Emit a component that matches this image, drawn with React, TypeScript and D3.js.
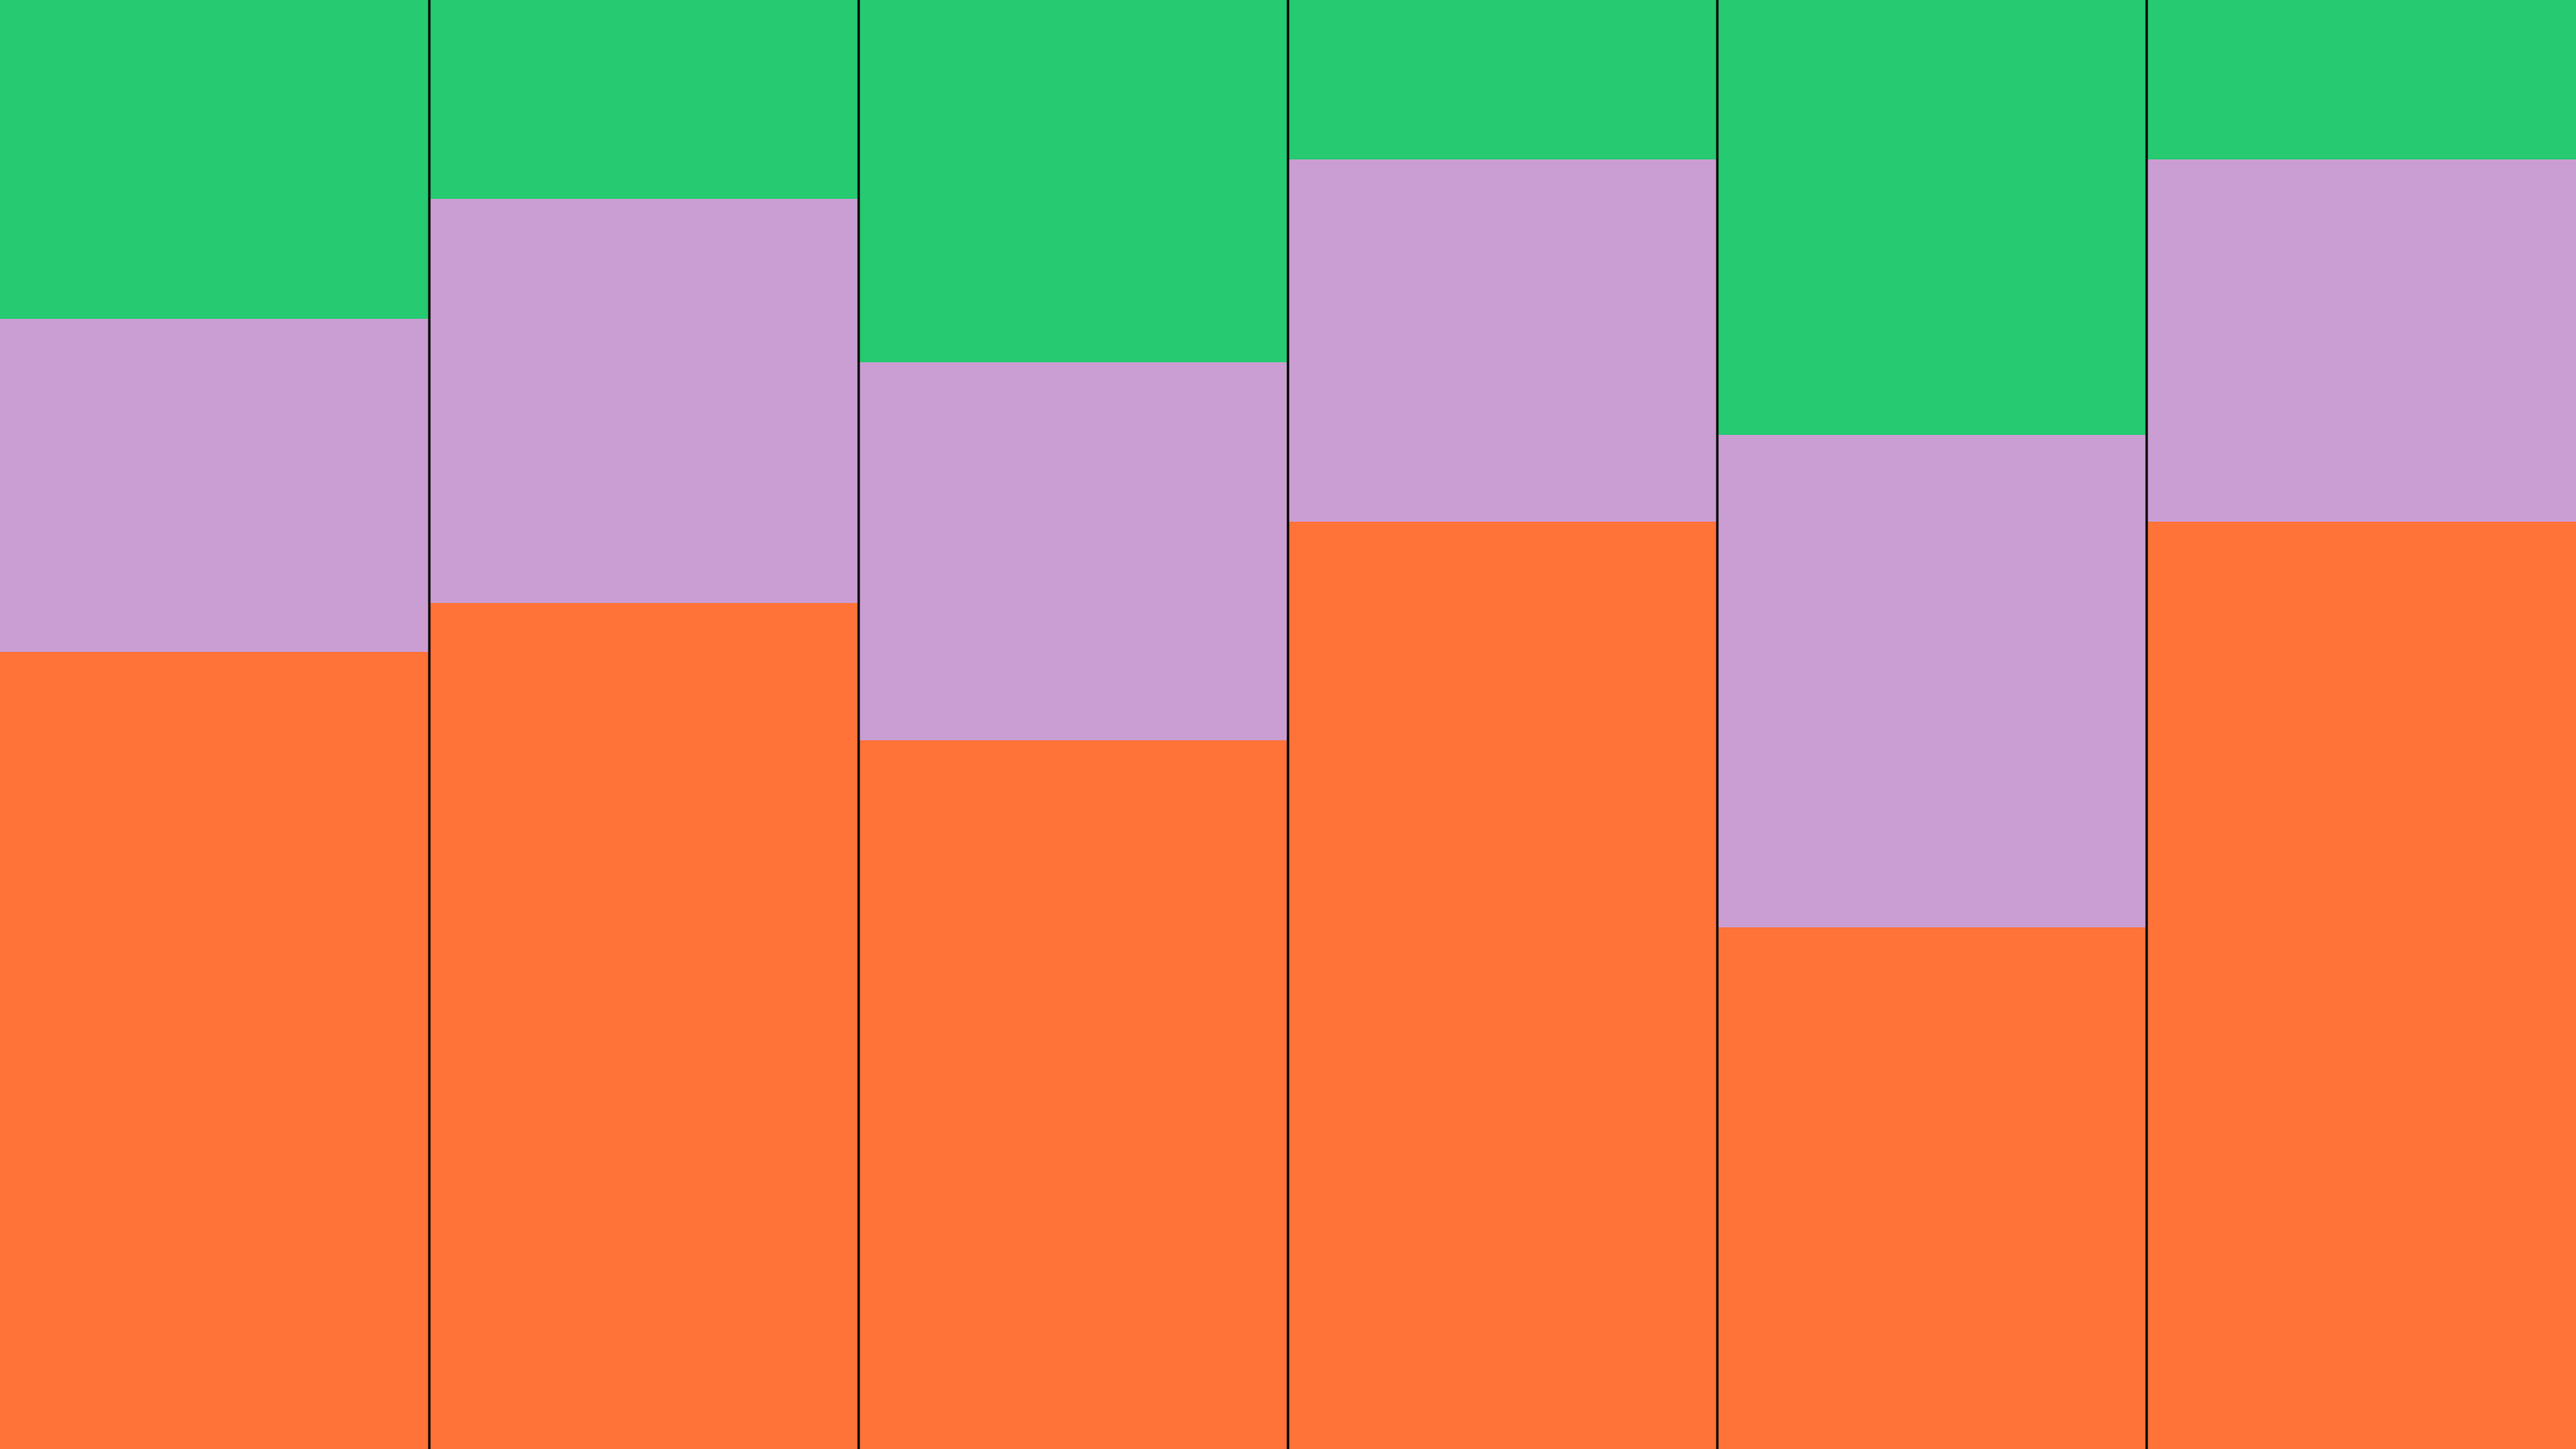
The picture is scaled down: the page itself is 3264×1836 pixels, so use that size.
import React from "react";
import * as d3 from "d3";

const categories = ["A", "B", "C", "D", "E", "F"];
const orangeValues = [55, 58.4, 48.9, 64, 36, 64];
const purpleValues = [23, 27.9, 26.1, 25, 34, 25];
const greenValues = [22, 13.7, 25, 11, 30, 11];
const seriesKeys = ["orange", "purple", "green"];
const seriesColors = ["#FF7339", "#CA9ED2", "#25CA71"];

const W = 3264;
const H = 1836;

export default function App() {
  const rows = categories.map((c, i) => ({
    cat: c,
    orange: orangeValues[i],
    purple: purpleValues[i],
    green: greenValues[i],
  }));
  const stack = d3.stack<any>().keys(seriesKeys).offset(d3.stackOffsetExpand);
  const layers = stack(rows);
  const x = d3.scaleBand().domain(categories).range([0, W]).padding(0);
  const y = d3.scaleLinear().domain([0, 1]).range([H, 0]);
  const color = d3.scaleOrdinal<string>().domain(seriesKeys).range(seriesColors);

  return (
    <svg
      width={W}
      height={H}
      style={{ position: "fixed", top: 0, left: 0, display: "block" }}
    >
      {layers.map((layer) => (
        <g key={layer.key} fill={color(layer.key)}>
          {layer.map((d, i) => (
            <rect
              key={i}
              x={x(categories[i])}
              width={x.bandwidth()}
              y={y(d[1])}
              height={y(d[0]) - y(d[1])}
              shapeRendering="crispEdges"
            />
          ))}
        </g>
      ))}
      {categories.slice(1).map((c) => (
        <line
          key={c}
          x1={x(c) as number}
          x2={x(c) as number}
          y1={0}
          y2={H}
          stroke="#000"
          strokeWidth={3}
        />
      ))}
    </svg>
  );
}
